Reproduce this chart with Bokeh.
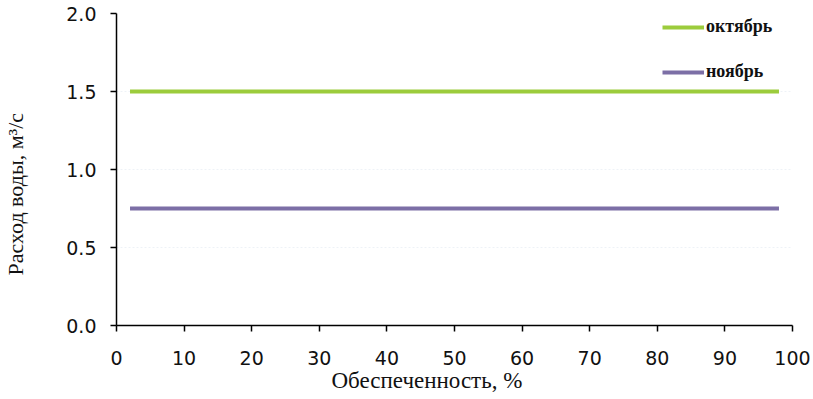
from bokeh.plotting import figure
from bokeh.models import Range1d, FixedTicker, Legend, LegendItem, NumeralTickFormatter, Title
from bokeh.embed import file_html
from bokeh.resources import INLINE

# data
prob = [2, 98]
october = [1.5, 1.5]
november = [0.75, 0.75]
series_names = ["октябрь", "ноябрь"]
x_ticks = [0, 10, 20, 30, 40, 50, 60, 70, 80, 90, 100]
y_ticks = [0.0, 0.5, 1.0, 1.5, 2.0]
x_title = "Обеспеченность, %"
y_title = "Расход воды, м³/с"

p = figure(width=813, height=399, output_backend="svg", toolbar_location=None,
           x_range=Range1d(0, 100), y_range=Range1d(0, 2),
           min_border_left=115, min_border_right=21, min_border_top=13, min_border_bottom=74)
p.outline_line_color = None
p.background_fill_color = "white"
p.border_fill_color = "white"

r1 = p.line(prob, october, line_color="#9ccc3c", line_width=4)
r2 = p.line(prob, november, line_color="#7c6fa6", line_width=4)

p.xgrid.grid_line_color = None
p.ygrid.grid_line_color = "#eef2f7"
p.ygrid.grid_line_dash = "2 2"
p.ygrid.ticker = FixedTicker(ticks=y_ticks)

p.xaxis.ticker = FixedTicker(ticks=x_ticks)
p.yaxis.ticker = FixedTicker(ticks=y_ticks)
p.yaxis.formatter = NumeralTickFormatter(format="0.0")

for ax in (p.xaxis[0], p.yaxis[0]):
    ax.axis_line_color = "black"
    ax.axis_line_width = 1.5
    ax.major_tick_line_color = "black"
    ax.major_tick_line_width = 1.5
    ax.major_tick_out = 6
    ax.major_tick_in = 0
    ax.minor_tick_line_color = None
    ax.major_label_text_font = "DejaVu Sans"
    ax.major_label_text_font_size = "19px"
    ax.major_label_text_color = "#111111"

p.yaxis.major_label_standoff = 14
p.xaxis.major_label_standoff = 19

# y title: trailing no-break spaces shift the visible text downward a little
p.yaxis.axis_label = y_title + "\u00a0" * 9
p.yaxis.axis_label_standoff = 35
p.yaxis.axis_label_text_font = "Liberation Serif"
p.yaxis.axis_label_text_font_size = "22px"
p.yaxis.axis_label_text_font_style = "normal"
p.yaxis.axis_label_text_color = "#111111"

xt = Title(text=x_title, align="left", offset=215, standoff=0, vertical_align="top",
           text_font="Liberation Serif", text_font_size="23px",
           text_font_style="normal", text_color="#111111")
p.add_layout(xt, "below")

legend = Legend(items=[LegendItem(label=series_names[0], renderers=[r1]),
                       LegendItem(label=series_names[1], renderers=[r2])],
                location=(546, 243), orientation="vertical")
legend.border_line_color = None
legend.background_fill_alpha = 0
legend.margin = 0
legend.padding = 0
legend.spacing = 24
legend.glyph_width = 42
legend.glyph_height = 20
legend.label_height = 20
legend.label_standoff = 2
legend.label_text_font = "Liberation Serif"
legend.label_text_font_style = "bold"
legend.label_text_font_size = "18px"
legend.label_text_color = "#111111"
p.add_layout(legend, "center")

open("out.html", "w").write(file_html(p, INLINE))
